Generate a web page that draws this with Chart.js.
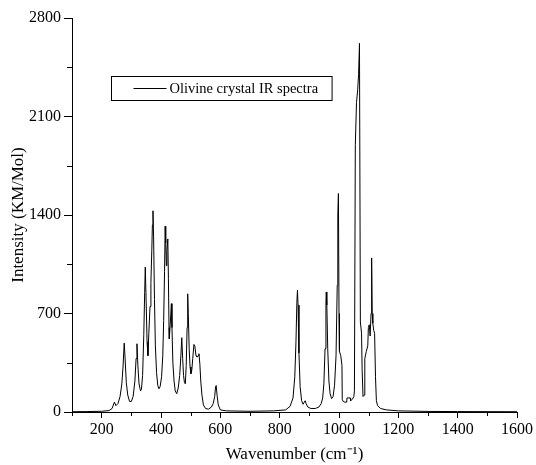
<!DOCTYPE html>
<html>
<head>
<meta charset="utf-8">
<script src="https://cdn.jsdelivr.net/npm/chart.js@4"></script>
<style>
  html, body { margin: 0; padding: 0; background: #fff; }
</style>
</head>
<body>
<canvas id="chart" width="536" height="465"></canvas>
<script>
// spectrum: wavenumber (cm-1) -> intensity (KM/Mol)
const wavenumber = [
  100, 150, 200, 225, 235, 243, 248, 255, 262, 268, 272, 276, 279, 283, 288, 294,
  300, 306, 312, 316, 319, 322, 326, 331, 334, 338, 342, 345, 347, 350, 353, 356,
  359, 363, 366, 369, 371, 373, 375, 378, 381, 385, 389, 393, 397, 402, 406, 409,
  412, 414, 416, 418, 420, 423, 425, 427, 428, 431, 435, 437, 440, 444, 448, 453,
  458, 463, 467, 470, 473, 476, 479, 482, 485, 488, 490, 492, 495, 498, 501, 504,
  507, 511, 514, 518, 520, 522, 525, 528, 531, 534, 538, 543, 550, 560, 570, 576,
  581, 584, 586, 589, 593, 600, 620, 700, 780, 820, 835, 845, 851, 855, 858, 860,
  862, 865, 869, 874, 879, 883, 886, 889, 895, 905, 920, 932, 940, 945, 949, 953,
  956, 957, 959, 962, 966, 970, 975, 980, 985, 990, 994, 996, 998, 1000, 1001,
  1002, 1006, 1010, 1011, 1014, 1020, 1026, 1027, 1038, 1039, 1045, 1050, 1052, 1055, 1059, 1063,
  1066, 1069, 1072, 1076, 1078, 1081, 1085, 1087, 1092, 1097, 1099, 1102, 1105, 1108, 1110,
  1112, 1114, 1117, 1120, 1123, 1126, 1130, 1140, 1160, 1200, 1300, 1400, 1600,
]
const intensity = [
  2, 3, 5, 10, 25, 70, 45, 60, 110, 200, 320, 490, 380, 210, 120, 75,
  75, 110, 220, 380, 485, 330, 200, 150, 160, 260, 550, 850, 1030, 780, 500, 400,
  560, 750, 920, 1150, 1330, 1430, 1250, 800, 470, 280, 190, 165, 180, 250, 400, 650,
  1000, 1320, 1200, 1040, 1150, 1230, 950, 600, 520, 620, 770, 600, 350, 220, 150, 130,
  170, 260, 400, 528, 380, 260, 210, 200, 330, 600, 840, 700, 450, 320, 272, 300,
  380, 480, 470, 400, 395, 390, 400, 414, 340, 220, 120, 50, 25, 20, 35, 60,
  110, 180, 188, 120, 50, 15, 8, 5, 8, 15, 40, 100, 250, 500, 780, 865,
  760, 420, 180, 80, 55, 70, 80, 60, 35, 25, 25, 35, 60, 100, 200, 450,
  780, 853, 760, 450, 220, 130, 95, 110, 190, 400, 900, 1400, 1553, 700, 450,
  430, 400, 330, 90, 75, 70, 70, 100, 100, 80, 90, 110, 150, 1900, 2200, 2290,
  2400, 2620, 640, 560, 300, 110, 120, 380, 430, 470, 600, 620, 540, 700, 1095,
  700, 630, 580, 560, 250, 80, 45, 25, 15, 8, 4, 3, 2,
]

const xTicks = [200, 400, 600, 800, 1000, 1200, 1400, 1600]
const xMinorTicks = [100, 300, 500, 700, 900, 1100, 1300, 1500]
const yTicks = [0, 700, 1400, 2100, 2800]
const yMinorTicks = [350, 1050, 1750, 2450]

const SERIF = '"Liberation Serif", "Times New Roman", serif'
Chart.defaults.font.family = SERIF
Chart.defaults.color = '#000'

// Origin-style short minor ticks, placed through the chart's own scales
const minorTicks = {
  id: 'minorTicks',
  afterDraw(chart) {
    const { ctx, chartArea, scales } = chart
    ctx.save()
    ctx.strokeStyle = '#000'
    ctx.lineWidth = 1
    ctx.beginPath()
    xMinorTicks.forEach((v) => {
      const px = Math.round(scales.x.getPixelForValue(v)) + 0.5
      ctx.moveTo(px, chartArea.bottom)
      ctx.lineTo(px, chartArea.bottom + 4)
    })
    yMinorTicks.forEach((v) => {
      const py = Math.round(scales.y.getPixelForValue(v)) + 0.5
      ctx.moveTo(chartArea.left, py)
      ctx.lineTo(chartArea.left - 5, py)
    })
    ctx.stroke()
    ctx.restore()
  },
}

// boxed legend sitting inside the plot
const legendBox = {
  id: 'legendBox',
  afterDraw(chart) {
    const { ctx } = chart
    const label = chart.data.datasets[0].label
    ctx.save()
    ctx.font = '14.5px ' + SERIF
    const textW = ctx.measureText(label).width
    const left = 111.5
    const top = 76.5
    const h = 24
    ctx.strokeStyle = '#000'
    ctx.lineWidth = 1
    ctx.strokeRect(left, top, 58 + textW + 14, h)
    ctx.beginPath()
    ctx.moveTo(left + 22, top + 12)
    ctx.lineTo(left + 55, top + 12)
    ctx.stroke()
    ctx.fillStyle = '#000'
    ctx.textBaseline = 'middle'
    ctx.fillText(label, left + 58, top + 12.5)
    ctx.restore()
  },
}

const plainNumber = (value) => String(value)

new Chart(document.getElementById('chart'), {
  type: 'line',
  data: {
    datasets: [
      {
        label: 'Olivine crystal IR spectra',
        data: wavenumber.map((w, i) => ({ x: w, y: intensity[i] })),
        borderColor: '#000',
        borderWidth: 1,
        pointRadius: 0,
        tension: 0,
        fill: false,
      },
    ],
  },
  options: {
    responsive: false,
    animation: false,
    layout: { padding: { top: 18, right: 19, bottom: 0, left: 0 } },
    plugins: {
      legend: { display: false },
      tooltip: { enabled: false },
    },
    scales: {
      x: {
        type: 'linear',
        min: 100,
        max: 1600,
        afterBuildTicks: (axis) => {
          axis.ticks = xTicks.map((value) => ({ value }))
        },
        afterFit: (axis) => {
          axis.height = 53
        },
        grid: { drawOnChartArea: false, tickLength: 6, tickColor: '#000' },
        border: { color: '#000', width: 1 },
        ticks: { autoSkip: false, maxRotation: 0, padding: 2, font: { size: 16 }, callback: plainNumber },
        title: {
          display: true,
          text: 'Wavenumber (cm\u207B\u00B9)',
          font: { size: 17 },
          padding: { top: 0, bottom: 0 },
        },
      },
      y: {
        type: 'linear',
        min: 0,
        max: 2800,
        afterBuildTicks: (axis) => {
          axis.ticks = yTicks.map((value) => ({ value }))
        },
        afterFit: (axis) => {
          axis.width = 72
        },
        grid: { drawOnChartArea: false, tickLength: 8, tickColor: '#000' },
        border: { color: '#000', width: 1 },
        ticks: { padding: 3, font: { size: 16 }, callback: plainNumber },
        title: {
          display: true,
          text: 'Intensity (KM/Mol)',
          font: { size: 17 },
          padding: { top: 8, bottom: 0 },
        },
      },
    },
  },
  plugins: [minorTicks, legendBox],
})
</script>
</body>
</html>
